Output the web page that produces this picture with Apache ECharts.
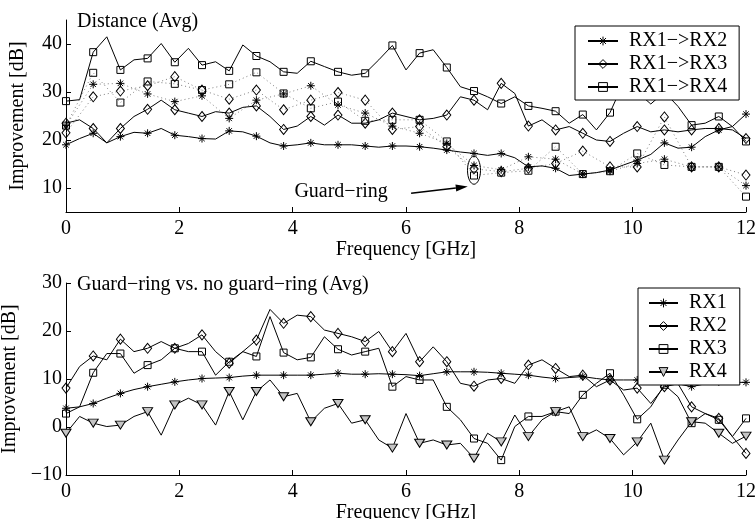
<!DOCTYPE html>
<html>
<head>
<meta charset="utf-8">
<script src="https://cdn.jsdelivr.net/npm/echarts@6/dist/echarts.min.js"></script>
<style>
  html, body { margin: 0; padding: 0; background: #fff; }
  #chart { width: 756px; height: 519px; }
</style>
</head>
<body>
<div id="chart"></div>
<script>
// frequency grid of the measured curves (GHz), markers sit on every 2nd point
const FREQ = Array.from({ length: 51 }, (_, i) => +(i * 0.24).toFixed(2));
const FREQ_MARK = FREQ.filter((_, i) => i % 2 === 0);

// --- top panel: Distance (Avg), no guard-ring (solid)
const dist12 = [19.0, 20.3, 21.4, 19.4, 20.7, 21.6, 21.4, 22.4, 21.0, 20.7, 20.3, 20.2, 21.9, 21.7, 20.8, 19.4, 18.75, 19.0, 19.4, 19.0, 19.0, 19.0, 18.75, 18.5, 18.75, 18.75, 18.6, 18.3, 17.9, 17.5, 17.2, 16.8, 17.2, 16.3, 14.4, 14.6, 14.1, 12.6, 12.9, 13.2, 13.75, 14.8, 15.8, 17.0, 19.4, 18.3, 18.5, 20.7, 22.1, 22.8, 25.4];
const dist13 = [23.5, 24.2, 22.4, 19.4, 22.4, 24.9, 26.4, 28.3, 26.3, 25.6, 24.9, 25.9, 25.6, 26.8, 27.1, 24.9, 22.2, 22.9, 24.9, 23.1, 25.2, 23.5, 23.5, 24.2, 25.6, 24.9, 24.2, 24.5, 25.2, 29.0, 28.3, 26.3, 31.8, 29.7, 22.9, 24.2, 22.1, 22.8, 21.4, 20.0, 19.7, 21.4, 22.8, 21.7, 22.1, 21.7, 22.1, 22.4, 22.4, 22.1, 20.3];
const dist14 = [28.1, 28.4, 38.3, 41.5, 34.6, 36.7, 37.0, 40.1, 36.2, 39.1, 35.6, 36.3, 34.4, 39.8, 37.5, 36.3, 34.2, 33.9, 36.4, 35.3, 34.2, 33.5, 33.9, 36.7, 39.7, 34.6, 38.1, 38.8, 35.1, 31.1, 30.2, 29.0, 27.6, 29.0, 27.1, 26.6, 26.0, 23.5, 25.3, 22.1, 25.7, 32.0, 30.0, 27.5, 30.0, 27.0, 23.1, 23.5, 24.9, 22.8, 19.7];

// --- top panel: with guard-ring (dotted), values at the marker points only
const distGr12 = [23.0, 31.6, 31.8, 29.6, 28.0, 29.2, 24.5, 28.3, 29.6, 31.3, 27.3, 25.6, 22.9, 21.4, 19.3, 14.7, 13.8, 16.5, 16.0, 12.9, 13.5, 15.1, 16.0, 14.4, 14.4, 10.5];
const distGr13 = [21.5, 29.0, 30.2, 31.3, 33.2, 30.4, 28.5, 30.4, 26.3, 28.3, 29.9, 28.3, 22.2, 22.8, 18.6, 14.0, 13.4, 14.1, 15.1, 17.7, 14.4, 14.4, 24.8, 14.4, 14.4, 12.7];
const distGr14 = [23.0, 34.0, 27.8, 32.2, 31.7, 30.4, 31.6, 34.1, 29.7, 26.6, 28.0, 24.0, 24.2, 24.2, 19.7, 12.6, 13.2, 13.6, 18.6, 12.9, 13.5, 17.2, 14.8, 14.4, 14.4, 8.2];

// --- bottom panel: Guard-ring vs. no guard-ring (Avg)
const gr1 = [3.9, 4.2, 4.9, 6.0, 7.0, 7.8, 8.4, 8.9, 9.4, 9.8, 10.1, 10.2, 10.3, 10.6, 10.8, 10.8, 10.8, 10.8, 10.8, 11.0, 11.2, 11.0, 11.0, 11.1, 11.0, 10.9, 10.7, 11.1, 11.5, 11.5, 11.5, 11.4, 11.2, 11.0, 10.8, 10.4, 10.1, 10.3, 10.5, 10.1, 9.8, 9.8, 9.8, 9.7, 9.6, 9.0, 8.4, 9.0, 9.4, 9.3, 9.3];
const gr2 = [8.1, 12.6, 14.8, 14.0, 18.3, 15.7, 16.4, 17.8, 16.4, 17.4, 19.2, 15.7, 13.3, 15.7, 18.1, 24.5, 21.6, 23.3, 23.0, 20.2, 19.5, 18.8, 17.8, 19.9, 15.7, 19.5, 13.6, 16.7, 13.6, 9.1, 8.5, 9.8, 10.1, 9.1, 12.9, 14.0, 12.2, 10.5, 10.8, 8.4, 9.8, 7.7, 8.1, 4.9, 8.4, 9.0, 4.2, 2.8, 1.8, -2.0, -5.5];
const gr3 = [2.8, 4.2, 11.3, 15.3, 15.3, 11.2, 12.9, 14.0, 16.4, 15.7, 15.7, 10.8, 13.6, 15.7, 14.7, 23.0, 15.5, 14.0, 14.5, 18.8, 16.2, 15.0, 15.7, 16.4, 8.4, 10.5, 9.8, 9.8, 4.2, 1.5, -2.4, -3.4, -6.9, 0.1, 2.2, 2.2, 3.2, 2.8, 6.7, 9.1, 11.2, 6.7, 1.6, 4.2, 8.8, 6.3, 0.8, 2.8, 1.5, -2.0, 1.8];
const gr4 = [-1.3, 2.2, 0.8, 0.1, 0.4, 2.2, 3.2, -1.7, 4.6, 6.0, 4.6, 0.4, 7.4, 1.5, 7.4, 9.8, 6.3, 7.0, 1.1, 3.9, 4.9, 0.8, 1.5, -2.7, -4.4, 2.8, -3.4, -2.7, -3.75, -3.4, -6.5, -1.3, -3.1, 2.5, -2.0, 1.5, 3.2, 4.2, -2.0, -0.6, -2.4, -5.8, -3.1, 0.8, -6.9, -2.7, 1.1, 0.8, -1.3, -3.4, -1.9];

// tick labels
const xTicks = [0, 2, 4, 6, 8, 10, 12];
const yTicksTop = [10, 20, 30, 40];
const yTicksBottom = [-10, 0, 10, 20, 30];

const namesTop = ['RX1\u2212>RX2', 'RX1\u2212>RX3', 'RX1\u2212>RX4'];
const namesBottom = ['RX1', 'RX2', 'RX3', 'RX4'];

const FONT = '"Liberation Serif", "DejaVu Serif", serif';
const STAR = 'path://M0,5L10,5M5,0L5,10M1.6,1.6L8.4,8.4M8.4,1.6L1.6,8.4';
const MARKS = {
  star: { symbol: STAR, symbolSize: 8, fill: 'transparent' },
  diamond: { symbol: 'diamond', symbolSize: [8, 10], fill: 'transparent' },
  square: { symbol: 'rect', symbolSize: 7, fill: 'transparent' },
  tri: { symbol: 'triangle', symbolSize: [10, 8], symbolRotate: 180, fill: '#c4c4c4' }
};

function makeSeries(name, xs, values, mark, grid, dotted) {
  const m = MARKS[mark];
  return {
    name: name,
    type: 'line',
    xAxisIndex: grid,
    yAxisIndex: grid,
    data: values.map((v, i) => (dotted || i % 2 === 0) ? [xs[i], v] : { value: [xs[i], v], symbol: 'none' }),
    symbol: m.symbol,
    symbolSize: m.symbolSize,
    symbolRotate: m.symbolRotate || 0,
    showSymbol: true,
    showAllSymbol: true,
    lineStyle: dotted ? { color: '#808080', width: 1, type: [1, 3] } : { color: '#000', width: 1 },
    itemStyle: { color: m.fill, borderColor: '#000', borderWidth: 1 },
    emphasis: { disabled: true },
    z: dotted ? 2 : 3
  };
}

const textStyle = { fontFamily: FONT, fontSize: 20, color: '#000' };

function xAxis(grid) {
  return {
    type: 'value', gridIndex: grid, min: 0, max: 12, interval: 2,
    axisLine: { show: true, onZero: false, lineStyle: { color: '#000', width: 1 } },
    axisTick: { show: true, inside: true, length: 5, lineStyle: { color: '#000' }, customValues: xTicks },
    axisLabel: { margin: 7, customValues: xTicks, fontFamily: FONT, fontSize: 20, color: '#000' },
    splitLine: { show: false },
    name: 'Frequency [GHz]', nameLocation: 'middle', nameGap: 22, nameTextStyle: textStyle
  };
}

function yAxis(grid, min, max, ticks) {
  return {
    type: 'value', gridIndex: grid, min: min, max: max,
    axisLine: { show: true, onZero: false, lineStyle: { color: '#000', width: 1 } },
    axisTick: { show: true, inside: true, length: 5, lineStyle: { color: '#000' }, customValues: ticks },
    axisLabel: {
      margin: 4, customValues: ticks, fontFamily: FONT, fontSize: 20, color: '#000',
      formatter: v => String(v).replace('-', '\u2212')
    },
    splitLine: { show: false },
    name: 'Improvement [dB]', nameLocation: 'middle', nameRotate: 90, nameGap: 38, nameTextStyle: textStyle
  };
}

function legend(names, marks, left, top, padding, itemWidth) {
  return {
    data: names.map((n, i) => ({
      name: n,
      itemStyle: { color: MARKS[marks[i]].fill, borderColor: '#000', borderWidth: 1 }
    })),
    orient: 'vertical', left: left, top: top,
    padding: padding, itemGap: 3, itemWidth: itemWidth, itemHeight: 11,
    textStyle: Object.assign({ padding: [0, 0, 0, 6], lineHeight: 20 }, textStyle),
    borderColor: '#000', borderWidth: 1, backgroundColor: '#fff',
    selectedMode: false, z: 10
  };
}

const chart = echarts.init(document.getElementById('chart'), null, { renderer: 'canvas' });

chart.setOption({
  animation: false,
  backgroundColor: '#fff',
  title: [
    { text: 'Distance (Avg)', left: 77, top: 12, padding: 0, textStyle: Object.assign({ fontWeight: 'normal' }, textStyle) },
    { text: 'Guard\u2212ring vs. no guard\u2212ring (Avg)', left: 77, top: 275, padding: 0, textStyle: Object.assign({ fontWeight: 'normal' }, textStyle) }
  ],
  grid: [
    { left: 66, top: 20, width: 680, height: 192, outerBoundsMode: 'none' },
    { left: 66, top: 283, width: 680, height: 192, outerBoundsMode: 'none' }
  ],
  xAxis: [xAxis(0), xAxis(1)],
  yAxis: [yAxis(0, 5, 45, yTicksTop), yAxis(1, -10, 30, yTicksBottom)],
  legend: [
    legend(namesTop, ['star', 'diamond', 'square'], 575, 26, [5, 12, 3, 12], 30),
    legend(namesBottom, ['star', 'diamond', 'square', 'tri'], 638, 288, [5, 13, 3, 10], 29)
  ],
  series: [
    makeSeries('gr12', FREQ_MARK, distGr12, 'star', 0, true),
    makeSeries('gr13', FREQ_MARK, distGr13, 'diamond', 0, true),
    makeSeries('gr14', FREQ_MARK, distGr14, 'square', 0, true),
    makeSeries(namesTop[0], FREQ, dist12, 'star', 0, false),
    makeSeries(namesTop[1], FREQ, dist13, 'diamond', 0, false),
    makeSeries(namesTop[2], FREQ, dist14, 'square', 0, false),
    makeSeries(namesBottom[0], FREQ, gr1, 'star', 1, false),
    makeSeries(namesBottom[1], FREQ, gr2, 'diamond', 1, false),
    makeSeries(namesBottom[2], FREQ, gr3, 'square', 1, false),
    makeSeries(namesBottom[3], FREQ, gr4, 'tri', 1, false)
  ]
});

// "Guard-ring" annotation in data coordinates of the top panel
const RING_AT = [7.2, 13.7];
const ARROW_FROM = [6.09, 8.9];
const ARROW_TO = [7.09, 10.3];
const LABEL_AT = [5.68, 9.2];

const px = pt => chart.convertToPixel({ gridIndex: 0 }, pt);
const ring = px(RING_AT), a0 = px(ARROW_FROM), a1 = px(ARROW_TO), lab = px(LABEL_AT);
const ang = Math.atan2(a1[1] - a0[1], a1[0] - a0[0]);
const headLen = 12, headW = 3.5;
const base = [a1[0] - headLen * Math.cos(ang), a1[1] - headLen * Math.sin(ang)];
const nx = -Math.sin(ang), ny = Math.cos(ang);

chart.setOption({
  graphic: [
    { type: 'ellipse', shape: { cx: ring[0], cy: ring[1], rx: 6.5, ry: 14 }, style: { fill: 'none', stroke: '#000', lineWidth: 1 }, z: 20 },
    { type: 'line', shape: { x1: a0[0], y1: a0[1], x2: base[0], y2: base[1] }, style: { stroke: '#000', lineWidth: 1.5 }, z: 20 },
    { type: 'polygon', shape: { points: [a1, [base[0] + nx * headW, base[1] + ny * headW], [base[0] - nx * headW, base[1] - ny * headW]] }, style: { fill: '#000' }, z: 20 },
    { type: 'text', x: lab[0], y: lab[1], style: { text: 'Guard\u2212ring', align: 'right', verticalAlign: 'middle', font: '20px ' + FONT, fill: '#000' }, z: 20 }
  ]
});
</script>
</body>
</html>
